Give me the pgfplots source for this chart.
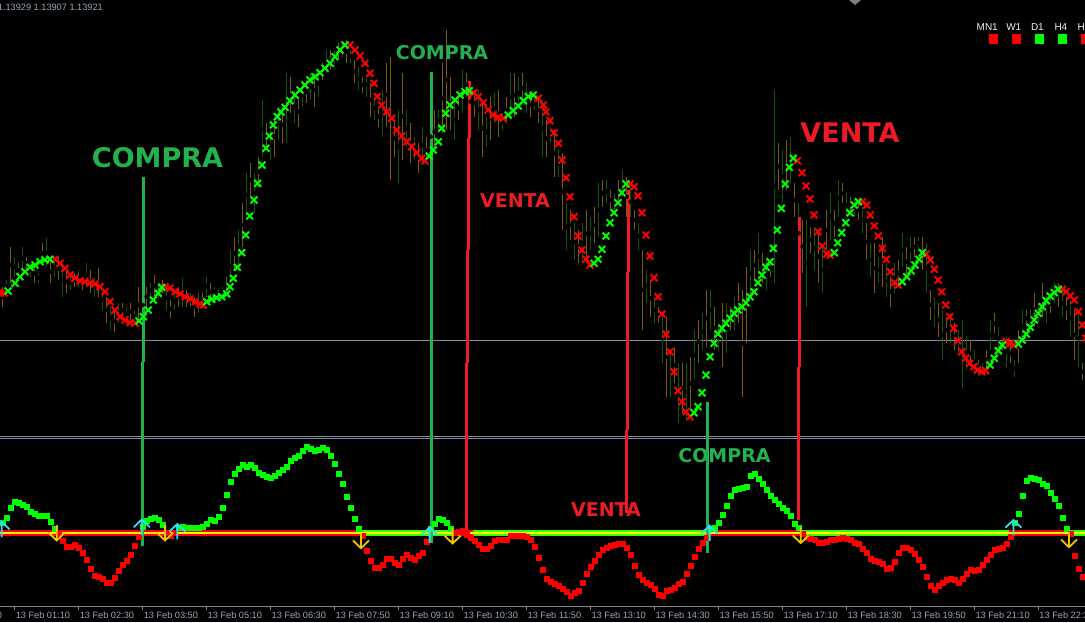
\documentclass[border=0pt]{standalone}
\usepackage{fontspec}
\setmainfont{Liberation Sans}
\newfontfamily\dv{DejaVu Sans}
\usepackage{pgfplots}
\usepackage{pgfplotstable}
\pgfplotsset{compat=1.18}

\definecolor{compra}{HTML}{22B14C}
\definecolor{venta}{HTML}{ED1C24}
\definecolor{xgreen}{HTML}{00FF00}
\definecolor{xred}{HTML}{FF0000}
\definecolor{bull}{HTML}{0F560F}
\definecolor{bear}{HTML}{7A5A06}
\definecolor{gridl}{HTML}{7F8EA8}
\definecolor{axisg}{HTML}{7D8795}
\definecolor{ticktxt}{HTML}{97A6B8}
\definecolor{zlime}{HTML}{33FF00}
\definecolor{arrcyan}{HTML}{30E0F0}
\definecolor{arrgold}{HTML}{F5C400}

% arrow marks of the oscillator window
\pgfdeclareplotmark{uparr}{%
  \pgfpathmoveto{\pgfqpoint{0pt}{-7.7pt}}%
  \pgfpathlineto{\pgfqpoint{0pt}{7.7pt}}%
  \pgfpathmoveto{\pgfqpoint{-8pt}{0pt}}%
  \pgfpathlineto{\pgfqpoint{0pt}{7.7pt}}%
  \pgfpathlineto{\pgfqpoint{8pt}{0pt}}%
  \pgfusepathqstroke}
\pgfdeclareplotmark{dnarr}{%
  \pgfpathmoveto{\pgfqpoint{0pt}{7.7pt}}%
  \pgfpathlineto{\pgfqpoint{0pt}{-7.7pt}}%
  \pgfpathmoveto{\pgfqpoint{-8pt}{0pt}}%
  \pgfpathlineto{\pgfqpoint{0pt}{-7.7pt}}%
  \pgfpathlineto{\pgfqpoint{8pt}{0pt}}%
  \pgfusepathqstroke}

\begin{document}

% candles (bar index k, high, low in screen units)
\pgfplotstableread{
k hi lo
0 286.7 306.7
2 246.7 283.3
4 263.3 276.7
6 256.7 270
8 263.3 283.3
10 243.3 263.3
12 260 283.3
14 256.7 280
16 270 293.3
18 273.3 286.7
20 276.7 290
22 270 293.3
24 268.3 296.7
26 296.7 323.3
28 310 331.7
30 303.3 316.7
32 303.3 320
34 286.7 323.3
36 286.7 306.7
38 275 296.7
40 280 293.3
42 300 318.3
44 286.7 306.7
46 290 306.7
48 296.7 316.7
50 293.3 306.7
52 283.3 300
54 290 296.7
56 276.7 293.3
58 236.7 270
60 203.3 246.7
62 163.3 196.7
64 156.7 186.7
66 123.3 150
68 116.7 156.7
70 106.7 143.3
72 76.7 113.3
74 96.7 126.7
76 80 103.3
78 73.3 106.7
80 63.3 80
82 50 70
84 43.3 60
86 40 63.3
88 60 83.3
90 76.7 93.3
92 83.3 116.7
94 106.7 126.7
96 63.3 126.7
97 56.7 180
98 120 156.7
100 73.3 160
102 123.3 163.3
104 143.3 173.3
106 136.7 163.3
108 110 153.3
110 63.3 133.3
111 30 130
112 76.7 130
114 96.7 120
116 73.3 96.7
118 90 116.7
120 100 156.7
122 96.7 140
124 90 136.7
126 96.7 123.3
128 73.3 116.7
130 73.3 103.3
132 93.3 116.7
134 96.7 123.3
136 120 156.7
138 130 176.7
140 153.3 230
142 210 240
144 230 263.3
146 210 256.7
148 206.7 243.3
150 180 206.7
152 190 210
154 180 203.3
156 176.7 216.7
158 210 230
160 250 330
162 280 316.7
164 306.7 323.3
166 316.7 396.7
168 346.7 383.3
170 363.3 413.3
172 356.7 410
174 320 363.3
176 290 346.7
178 306.7 350
180 303.3 366.7
182 306.7 330
184 283.3 323.3
185 290 396.7
186 266.7 343.3
188 250 280
190 253.3 283.3
192 260 276.7
194 143.3 190
196 140 190
198 183.3 216.7
200 220 273.3
202 226.7 253.3
204 230 283.3
206 210 250
208 210 236.7
210 183.3 203.3
212 196.7 213.3
214 200 220
216 223.3 260
218 243.3 293.3
220 236.7 286.7
222 276.7 306.7
224 260 286.7
226 246.7 276.7
228 236.7 256.7
230 236.7 270
232 290 320
234 303.3 336.7
236 316.7 343.3
238 323.3 350
242 340 366.7
244 360 373.3
246 350 370
248 313.3 333.3
250 340 350
252 343.3 363.3
254 330 363.3
256 310 326.7
258 293.3 326.7
260 283.3 316.7
262 293.3 313.3
264 283.3 306.7
266 296.7 320
268 310 360
270 363.3 380
}\candlebear

\pgfplotstableread{
k hi lo
1 280 293.3
3 256.7 276.7
5 246.7 270
7 263.3 276.7
9 273.3 283.3
11 238.3 266.7
13 260 276.7
15 263.3 296.7
17 276.7 290
19 270 286.7
21 263.3 286.7
23 276.7 296.7
25 290 310
27 306.7 330
29 303.3 323.3
31 306.7 320
33 310 323.3
35 293.3 316.7
37 283.3 296.7
39 283.3 300
41 286.7 310
43 293.3 310
45 278.3 306.7
47 293.3 306.7
49 293.3 313.3
51 276.7 296.7
53 286.7 296.7
55 286.7 296.7
57 250 283.3
59 230 263.3
61 173.3 216.7
63 173.3 213.3
65 100 156.7
67 130 160
69 106.7 140
71 73.3 143.3
73 90 123.3
75 83.3 106.7
77 73.3 100
79 70 96.7
81 50 73.3
83 50 66.7
85 43.3 56.7
87 50 63.3
89 66.7 90
91 73.3 96.7
93 96.7 120
95 90 136.7
99 110 183.3
101 110 146.7
103 136.7 160
105 126.7 163.3
107 113.3 160
109 110 130
113 100 140
115 70 113.3
117 90 113.3
119 90 130
121 116.7 146.7
123 93.3 123.3
125 113.3 130
127 73.3 120
129 76.7 110
131 83.3 113.3
133 96.7 110
135 100 156.7
137 126.7 143.3
139 150 176.7
141 203.3 250
143 223.3 260
145 223.3 263.3
147 216.7 250
149 183.3 236.7
151 180 203.3
153 193.3 213.3
155 170 196.7
157 186.7 216.7
159 223.3 250
161 270 303.3
163 296.7 323.3
165 313.3 363.3
167 350 396.7
169 363.3 423.3
171 363.3 420
173 330 380
175 313.3 350
177 290 330
179 323.3 350
181 303.3 353.3
183 296.7 330
187 250 296.7
189 233.3 280
191 260 290
193 90 283.3
195 150 203.3
197 136.7 183.3
199 203.3 263.3
201 220 306.7
203 226.7 270
205 246.7 293.3
207 193.3 240
209 180 216.7
211 193.3 216.7
213 200 216.7
215 206.7 233.3
217 243.3 276.7
219 256.7 283.3
221 263.3 296.7
223 263.3 293.3
225 233.3 266.7
227 236.7 263.3
229 236.7 250
231 243.3 293.3
233 296.7 326.7
235 310 360
237 313.3 343.3
239 330 353.3
240 320 388.3
241 336.7 370
243 350 373.3
245 363.3 375
247 320 350
249 326.7 350
251 336.7 366.7
253 360 376.7
255 310 343.3
257 310 330
259 303.3 323.3
261 293.3 323.3
263 283.3 303.3
265 290 316.7
267 300 336.7
269 310 366.7
}\candlebull

% trend line marks, green (rising) and red (falling)
\pgfplotstableread{
x y
8 291
15 283.3
20 276.7
25 271.7
30 267.3
35 265
40 261.7
45 260
50 259.3
139 321
143.3 316.7
148.3 310
153.3 300
158.3 293.3
161.7 287.3
206.7 301.7
211.7 299.3
216.7 297.7
221.7 296.7
226.7 294
230 286.7
233.3 278.3
237.3 267.3
241.7 252.7
245.7 235
249.7 216
254 200
257.7 183.3
262 165
266 148.3
269.3 136
273.3 125
277.3 116.7
281 112
285 107.3
290 100.7
295 95
300 90
305 85
310 80
315 76.7
320 72.7
325 68.3
330 63.3
335 56.7
340 50
345 45
429.3 156
433.3 150
438.3 141.7
441.7 128.3
445.7 113.3
450 105
455 100
460 95
465 91.7
469.3 90.7
508.3 115
513.3 110.7
518.3 106
523.3 100.7
528.3 96.7
533.3 95
594 263.3
598 259.3
602 249.3
606 236
610 222.7
614 212.7
618 202.7
622 192.7
626 184
694 412.7
698 406.7
702 392.7
706 375
710 356.7
714 343.3
718 334
722 328.3
726 323.3
730 318.3
734 313.3
738 310
742 306.7
746 302.7
750 296.7
754 291.7
758 282.7
762 275
766 267.3
770 261.7
773.3 248.3
777.3 230
781.3 208.3
785.3 184
789.3 167.3
793.3 158.3
834.3 252.7
837.7 242.7
841.7 232.7
845.7 222.7
850 212.7
854.3 205
858.3 201.7
902.3 281.7
906.7 276.7
911 270.7
915 265
919 259.3
922.3 252.7
990 365
994.3 358.3
998.3 350.7
1002.3 345
1018.3 344
1022.3 340
1026.3 334
1030.3 327.3
1034.3 320
1038.3 313.3
1042.3 306.7
1046.3 300.7
1050.3 296
1054.3 292.7
1058.3 289.3
}\xgreentab

\pgfplotstableread{
x y
0 293
4 293
55 259.3
60 263.3
65 268.3
70 275
75 278.3
80 280.7
85 281.7
90 282.7
95 284
100 286.7
105 291.7
110 301.7
115 310
120 316.7
125 320
130 322.7
135 323.3
165 286.7
170 288.3
175 291.7
180 294
185 296.7
190 299
195 301.7
200 304
203.3 305
350 45
355 50
360 56
365 63.3
370 73.3
374 83.3
377.3 96.7
381.7 105
386.7 111.7
391.7 118.3
396.7 130
401.7 136
406.7 141.7
411.7 146.7
416.7 152.7
421.7 158.3
425 161
474 92.7
478.3 96.7
483.3 102.7
488.3 110
493.3 115
498.3 117.3
503.3 118.3
538.3 98.3
543.3 105
546 111.7
550 120.7
554 132.7
558.3 143.3
562 160
566 177.7
570 196.7
574 216.7
578 236
582 250
586 259.3
590 265
630 184
634 186.7
638 195.7
642 212.7
646 235
650 256
654 277.7
658 296.7
662 314
666 334.3
670 351.7
674 371.7
678 390.7
682 401.7
686 411.7
690 416.7
797.3 160.7
802 172.7
806 186
810 199
814 215
818 231.7
822.3 246
826.7 254
830 255
862.3 201.7
866.7 205
870.3 215
874.3 226
878.3 236
882.3 248.3
886.3 259.3
890.3 271.7
894.3 282.7
898.3 285
926.3 254
930.3 260
934.3 269.3
938.3 280
941.7 291.7
945.7 305
949.7 316.7
953.7 328.3
957.7 340.7
961.7 351.7
965.7 358.3
969.7 363.3
973.7 366.7
977.7 370
981.7 371.7
985.7 370.7
1006.3 341.7
1010.3 343.3
1014.3 345
1062.3 289.3
1066.3 291.7
1070.3 296
1074.3 300
1078.3 311.7
1082.3 325
1086 338
}\xredtab

% oscillator, bar index k
\pgfplotstableread{
k y
0 523.0
1 517.7
2 507.7
3 501.6
4 502.7
5 504.3
6 507.0
7 511.7
8 514.0
9 515.6
10 515.6
11 515.6
12 521.7
13 529.0
35 526.9
36 520.6
37 518.3
38 517.4
39 519.4
40 525.0
44 527.8
45 526.7
46 527.3
47 527.6
48 527.6
49 527.3
50 526.7
51 524.0
52 520.0
53 520.6
54 516.7
55 507.7
56 495.0
57 482.0
58 474.0
59 468.4
60 464.3
61 466.6
62 465.0
63 467.3
64 472.3
65 474.3
66 476.7
67 477.7
68 475.6
69 472.7
70 469.3
71 466.6
72 461.0
73 457.6
74 456.0
75 451.0
76 446.7
77 448.3
78 450.6
79 449.4
80 447.4
81 449.4
82 455.7
83 464.0
84 474.0
85 484.0
86 497.0
87 508.0
88 519.0
89 529.0
107 528.8
108 524.0
109 518.3
110 519.4
111 522.6
112 529.0
177 528.8
178 527.3
179 522.6
180 515.0
181 506.0
182 496.0
183 489.4
184 488.3
185 487.4
186 486.7
187 475.6
188 473.4
189 478.3
190 484.0
191 490.0
192 495.7
193 499.3
194 503.4
195 507.3
196 510.7
197 516.0
198 524.0
199 527.8
253 523.0
254 514.0
255 496.0
256 481.0
257 477.4
258 478.3
259 480.0
260 483.3
261 486.0
262 492.6
263 499.0
264 506.0
265 517.7
266 528.3
}\oscgreen

\pgfplotstableread{
k y
14 533.6
15 541.0
16 546.7
17 546.7
18 544.3
19 547.3
20 552.7
21 560.0
22 568.7
23 575.7
24 577.0
25 578.6
26 582.7
27 582.7
28 577.7
29 571.0
30 565.0
31 561.0
32 555.0
33 546.0
34 536.6
41 532.6
42 536.0
43 532.6
90 535.5
91 550.6
92 561.0
93 567.7
94 567.7
95 565.0
96 558.7
97 558.7
98 562.6
99 565.0
100 558.3
101 554.3
102 557.6
103 559.4
104 556.0
105 552.7
106 542.0
113 532.6
114 531.7
115 531.0
116 534.3
117 537.7
118 541.0
119 544.3
120 548.3
121 548.3
122 546.0
123 541.0
124 540.0
125 540.0
126 539.3
127 536.0
128 535.7
129 535.7
130 535.7
131 536.6
132 540.0
133 546.7
134 557.6
135 569.6
136 578.4
137 582.0
138 584.0
139 585.6
140 588.3
141 591.7
142 595.6
143 592.6
144 590.6
145 582.7
146 574.0
147 566.7
148 561.0
149 555.0
150 549.3
151 547.3
152 546.0
153 545.0
154 544.0
155 543.4
156 547.7
157 555.0
158 566.0
159 574.7
160 580.0
161 582.7
162 584.3
163 589.0
164 594.7
165 595.6
166 591.0
167 590.0
168 587.7
169 583.3
170 581.7
171 574.0
172 566.0
173 556.7
174 548.3
175 542.7
176 537.4
200 533.6
201 537.4
202 539.0
203 540.0
204 542.7
205 542.7
206 541.6
207 540.0
208 539.3
209 538.4
210 537.3
211 538.4
212 540.0
213 542.7
214 544.0
215 548.3
216 552.7
217 558.3
218 560.7
219 561.7
220 563.3
221 568.3
222 567.7
223 562.0
224 552.7
225 547.7
226 547.3
227 549.3
228 553.3
229 560.0
230 566.7
231 576.6
232 586.0
233 589.3
234 586.0
235 582.7
236 580.0
237 579.0
238 580.0
239 582.7
240 578.4
241 573.4
242 570.0
243 570.7
244 569.3
245 565.0
246 560.0
247 554.3
248 550.0
249 548.3
250 547.7
251 543.4
252 536.6
267 533.6
268 556.0
269 568.3
270 576.6
}\oscred

\begin{tikzpicture}
\useasboundingbox (0,-16pt) rectangle (1085pt,606pt);
\fill[black] (0,-16pt) rectangle (1085pt,606pt);
\begin{axis}[
  scale only axis, width=1085pt, height=606pt,
  xmin=0, xmax=1085, ymin=0, ymax=606, y dir=reverse,
  clip=false,
  axis x line*=bottom, axis y line=none,
  x axis line style={draw=axisg, line width=1pt, -},
  xtick={14.6,78.58,142.56,206.54,270.52,334.5,398.48,462.46,526.44,590.42,654.4,718.38,782.36,846.34,910.32,974.3,1038.28},
  xticklabels={13 Feb 01:10,13 Feb 02:30,13 Feb 03:50,13 Feb 05:10,13 Feb 06:30,13 Feb 07:50,13 Feb 09:10,13 Feb 10:30,13 Feb 11:50,13 Feb 13:10,13 Feb 14:30,13 Feb 15:50,13 Feb 17:10,13 Feb 18:30,13 Feb 19:50,13 Feb 21:10,13 Feb 22:30},
  tick align=outside, major tick length=4pt,
  xtick style={draw=axisg, line width=1pt},
  xticklabel style={font=\fontsize{9.2}{10}\selectfont, text=ticktxt, anchor=north west, inner sep=0pt, xshift=1pt, yshift=-2pt},
]
% horizontal lines
\addplot[gridl, line width=1pt] coordinates {(0,340.5) (1085,340.5)};
\addplot[gridl, line width=1pt] coordinates {(0,436.3) (1085,436.3)};
\addplot[gridl, line width=1pt] coordinates {(0,438.8) (1085,438.8)};

% candles
\addplot[only marks, mark=none, error bars/.cd, y dir=both, y explicit, error mark=none,
  error bar style={bear, line width=1.4pt}]
  table[x expr={2.6+4*\thisrow{k}}, y expr={0.5*(\thisrow{hi}+\thisrow{lo})}, y error expr={0.5*(\thisrow{lo}-\thisrow{hi})}] {\candlebear};
\addplot[only marks, mark=none, error bars/.cd, y dir=both, y explicit, error mark=none,
  error bar style={bull, line width=1.4pt}]
  table[x expr={2.6+4*\thisrow{k}}, y expr={0.5*(\thisrow{hi}+\thisrow{lo})}, y error expr={0.5*(\thisrow{lo}-\thisrow{hi})}] {\candlebull};

% trend marks
\addplot[only marks, mark=x, mark size=4.8pt, xred, mark options={line width=2pt}] table {\xredtab};
\addplot[only marks, mark=x, mark size=4.8pt, xgreen, mark options={line width=2pt}] table {\xgreentab};

% oscillator zero lines
\addplot[zlime, line width=6pt] coordinates {(0,533) (1085,533)};
\addplot[xred, line width=6pt] coordinates {(0,533) (361,533)};
\addplot[xred, line width=6pt] coordinates {(459,533) (473,533)};
\addplot[xred, line width=6pt] coordinates {(707,533) (801,533)};
\addplot[xred, line width=6pt] coordinates {(1009,533) (1068,533)};
\addplot[yellow, line width=2pt] coordinates {(0,533) (1085,533)};

% oscillator
\addplot[only marks, mark=square*, mark size=2.6pt, xgreen] table[x expr={2.6+4*\thisrow{k}}, y=y] {\oscgreen};
\addplot[only marks, mark=square*, mark size=2.6pt, xred] table[x expr={2.6+4*\thisrow{k}}, y=y] {\oscred};

% signal lines
\addplot[compra, line width=3pt] coordinates {(143.3,176.7) (143.3,361.7)};
\addplot[compra, line width=3pt] coordinates {(142.5,361.7) (142.5,546)};
\addplot[compra, line width=3pt] coordinates {(431.4,71.7) (431.4,543.3)};
\addplot[venta, line width=3pt] coordinates {(469.3,81) (469.3,138.3)};
\addplot[venta, line width=3pt] coordinates {(468.3,138.3) (468.3,250)};
\addplot[venta, line width=3pt] coordinates {(467.3,250) (467.3,363)};
\addplot[venta, line width=3pt] coordinates {(466.2,363) (466.2,530)};
\addplot[venta, line width=3pt] coordinates {(628.3,190) (628.3,271.7)};
\addplot[venta, line width=3pt] coordinates {(627.3,271.7) (627.3,430)};
\addplot[venta, line width=3pt] coordinates {(626.3,430) (626.3,513.3)};
\addplot[compra, line width=3pt] coordinates {(707.5,402) (707.5,552.7)};
\addplot[venta, line width=3pt] coordinates {(799.3,216.7) (799.3,366.7)};
\addplot[venta, line width=3pt] coordinates {(798.2,366.7) (798.2,520)};

% cross arrows
\addplot[only marks, mark=uparr, arrcyan, mark options={line width=1.8pt}] coordinates {(1.7,529.5) (141.8,527.2) (177.3,531.7) (429.6,535) (709.6,533.3) (1013.4,527.7)};
\addplot[only marks, mark=dnarr, arrgold, mark options={line width=1.8pt}] coordinates {(56.7,532.8) (165.1,532.8) (361,540.5) (452.6,535.8) (800.7,535.3) (1069,539.5)};

% timeframe boxes
\addplot[only marks, mark=square*, mark size=4.3pt, xred] coordinates {(993,38.8) (1016,38.8) (1085,38.8)};
\addplot[only marks, mark=square*, mark size=4.3pt, xgreen] coordinates {(1039,38.8) (1062,38.8)};

% labels
\node[text=compra, inner sep=0pt, font=\dv\bfseries\fontsize{27}{27}\selectfont] at (axis cs:157.5,157.5) {COMPRA};
\node[text=compra, inner sep=0pt, font=\dv\bfseries\fontsize{19}{19}\selectfont] at (axis cs:442,52.5) {COMPRA};
\node[text=venta, inner sep=0pt, font=\dv\bfseries\fontsize{19}{19}\selectfont] at (axis cs:515,200.5) {VENTA};
\node[text=venta, inner sep=0pt, font=\dv\bfseries\fontsize{27}{27}\selectfont] at (axis cs:850,133) {VENTA};
\node[text=venta, inner sep=0pt, font=\dv\bfseries\fontsize{19}{19}\selectfont] at (axis cs:606,509.5) {VENTA};
\node[text=compra, inner sep=0pt, font=\dv\bfseries\fontsize{19}{19}\selectfont] at (axis cs:724.5,455.5) {COMPRA};

\node[anchor=base east, inner sep=0pt, text=ticktxt, font=\fontsize{9.2}{10}\selectfont] at (axis cs:103,10.7) {1.13929 1.13907 1.13921};
\node[anchor=base east, inner sep=0pt, text=white!90!gray, font=\fontsize{10}{11}\selectfont] at (axis cs:998,30.7) {MN1};
\node[anchor=base east, inner sep=0pt, text=white!90!gray, font=\fontsize{10}{11}\selectfont] at (axis cs:1021.5,30.7) {W1};
\node[anchor=base east, inner sep=0pt, text=white!90!gray, font=\fontsize{10}{11}\selectfont] at (axis cs:1044,30.7) {D1};
\node[anchor=base east, inner sep=0pt, text=white!90!gray, font=\fontsize{10}{11}\selectfont] at (axis cs:1067.5,30.7) {H4};
\node[anchor=base east, inner sep=0pt, text=white!90!gray, font=\fontsize{10}{11}\selectfont] at (axis cs:1090.5,30.7) {H1};
\fill[gray] (axis cs:849,0) -- (861,0) -- (855,5) -- cycle;
\node[anchor=north west, inner sep=0pt, text=ticktxt, font=\fontsize{9.2}{10}\selectfont] at (axis cs:-52.5,612) {12 Feb 23:50};
\end{axis}
\end{tikzpicture}
\end{document}
